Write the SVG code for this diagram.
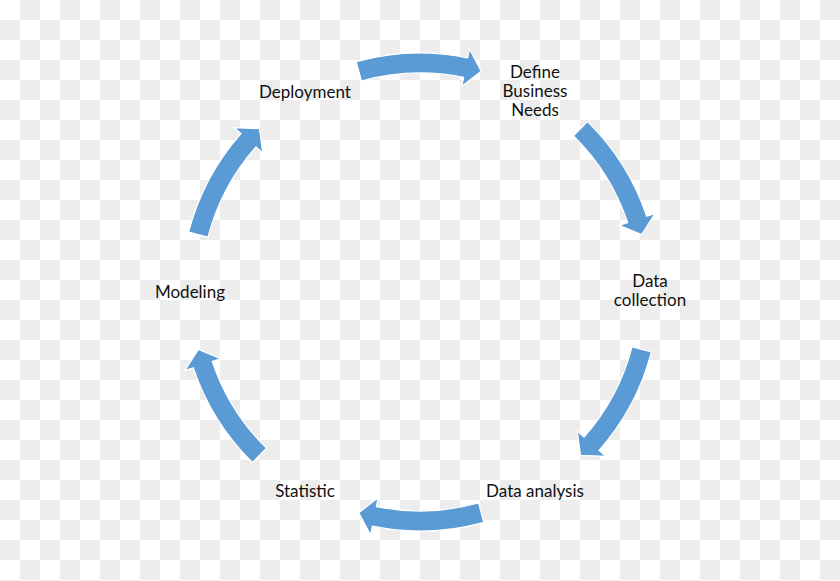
<svg xmlns="http://www.w3.org/2000/svg" xmlns:xlink="http://www.w3.org/1999/xlink" width="840" height="581" viewBox="0 0 840 581">
  <style>
    .lbl { font-family: Lato, "Open Sans", "Liberation Sans", sans-serif; font-size: 17px; fill: #111111; text-anchor: middle; }
    .arr { fill: #5b9bd5; stroke: #ffffff; stroke-width: 1.2; stroke-linejoin: miter; }
  </style>
  <defs>
    <pattern id="checker" x="0" y="0" width="40" height="40" patternUnits="userSpaceOnUse">
      <rect width="40" height="40" fill="#ffffff"/>
      <rect x="20" y="0" width="20" height="20" fill="#ededed"/>
      <rect x="0" y="20" width="20" height="20" fill="#ededed"/>
    </pattern>
    <path id="arrow" d="M 356.14 61.7 A 239 239 0 0 1 467.66 57.8 L 469.45 49.0 L 481.19 71.34 L 461.87 86.22 L 463.67 77.4 A 219 219 0 0 0 361.48 80.97 Z"/>
  </defs>
  <rect width="840" height="581" fill="url(#checker)"/>
  <g id="connectors">
    <use xlink:href="#arrow" href="#arrow" class="arr"/>
    <use xlink:href="#arrow" href="#arrow" class="arr" transform="rotate(60 420 292)"/>
    <use xlink:href="#arrow" href="#arrow" class="arr" transform="rotate(120 420 292)"/>
    <use xlink:href="#arrow" href="#arrow" class="arr" transform="rotate(180 420 292)"/>
    <use xlink:href="#arrow" href="#arrow" class="arr" transform="rotate(240 420 292)"/>
    <use xlink:href="#arrow" href="#arrow" class="arr" transform="rotate(300 420 292)"/>
  </g>
  <g id="node-define">
    <text class="lbl" x="535" y="78">Define</text>
    <text class="lbl" x="535" y="97">Business</text>
    <text class="lbl" x="535" y="116">Needs</text>
  </g>
  <g id="node-collection">
    <text class="lbl" x="650" y="287">Data</text>
    <text class="lbl" x="650" y="306">collection</text>
  </g>
  <g id="node-analysis">
    <text class="lbl" x="535" y="497">Data analysis</text>
  </g>
  <g id="node-statistic">
    <text class="lbl" x="305" y="497">Statistic</text>
  </g>
  <g id="node-modeling">
    <text class="lbl" x="190" y="298">Modeling</text>
  </g>
  <g id="node-deployment">
    <text class="lbl" x="305" y="98">Deployment</text>
  </g>
</svg>
